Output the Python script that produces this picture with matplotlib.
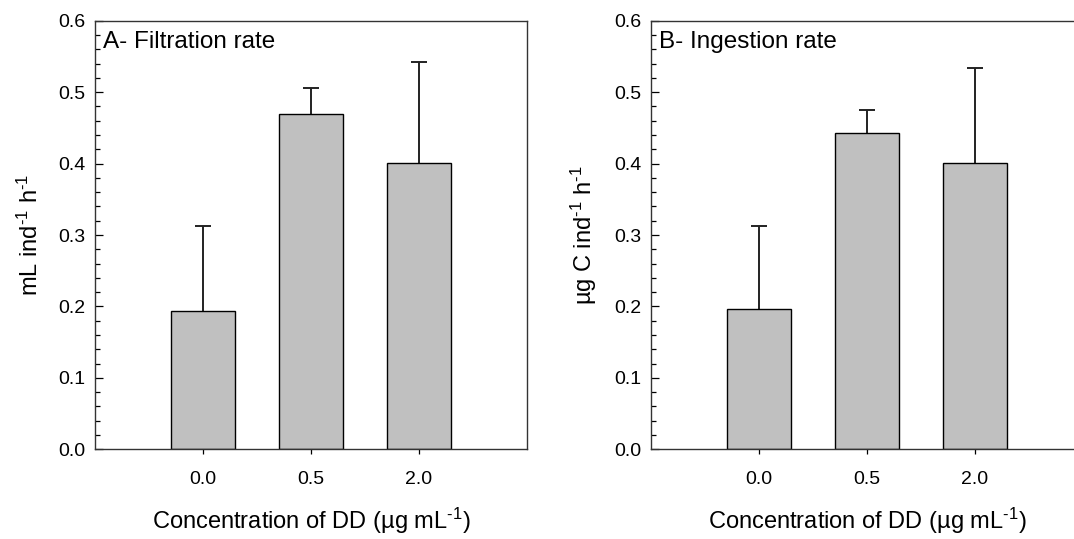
import numpy as np
import matplotlib
matplotlib.use('Agg')
import matplotlib.pyplot as plt
from matplotlib.ticker import MultipleLocator, FormatStrFormatter

plt.rcParams['font.family'] = ['Liberation Sans', 'DejaVu Sans']
plt.rcParams['mathtext.fontset'] = 'custom'
plt.rcParams['mathtext.rm'] = 'Liberation Sans'

# data
concentrations = ['0.0', '0.5', '2.0']
filtration_mean = [0.1935, 0.470, 0.4005]
filtration_sd = [0.119, 0.036, 0.142]
ingestion_mean = [0.197, 0.443, 0.4005]
ingestion_sd = [0.115, 0.0325, 0.1335]

panel_titles = ['A- Filtration rate', 'B- Ingestion rate']
sup = r'$\mathregular{^{\text{-}1}}$'
y_labels = ['mL ind' + sup + ' h' + sup,
            'µg C ind' + sup + ' h' + sup]
x_label = 'Concentration of DD (µg mL' + sup + ')'

fig = plt.figure(figsize=(10.74, 5.39), dpi=100)
ax1 = fig.add_axes([0.0885, 0.1664, 0.4022, 0.7952])
ax2 = fig.add_axes([0.6061, 0.1664, 0.4022, 0.7952])

x = np.arange(len(concentrations))
for ax, means, sds, title, ylab in zip([ax1, ax2], [filtration_mean, ingestion_mean],
                                       [filtration_sd, ingestion_sd], panel_titles, y_labels):
    ax.bar(x, means, width=0.6, color='#c0c0c0', edgecolor='black', linewidth=1.0, zorder=2)
    eb = ax.errorbar(x, means, yerr=[np.zeros(len(sds)), sds], fmt='none', ecolor='#222222',
                     elinewidth=1.4, capsize=5.5, capthick=1.4, zorder=1)
    # only the upper cap is shown
    eb[1][0].set_visible(False)
    ax.set_xlim(-1, 3)
    ax.set_ylim(0, 0.6)
    ax.set_xticks(x)
    ax.set_xticklabels(concentrations)
    ax.yaxis.set_major_locator(MultipleLocator(0.1))
    ax.yaxis.set_minor_locator(MultipleLocator(0.02))
    ax.yaxis.set_major_formatter(FormatStrFormatter('%.1f'))
    ax.tick_params(axis='y', which='major', direction='in', length=5.8, width=0.9,
                   labelsize=14, pad=7)
    ax.tick_params(axis='y', which='minor', direction='in', length=3.6, width=0.9)
    ax.tick_params(axis='x', which='major', direction='out', length=3.6, width=0.9,
                   labelsize=14, pad=12)
    for s in ax.spines.values():
        s.set_linewidth(1.0)
        s.set_color('#333333')
    ax.set_xlabel(x_label, fontsize=17, labelpad=13)
    ax.set_ylabel(ylab, fontsize=17, labelpad=11)
    ax.text(0.018, 0.975, title, transform=ax.transAxes, fontsize=17.5, ha='left', va='top')

fig.savefig('out.png', dpi=100)
